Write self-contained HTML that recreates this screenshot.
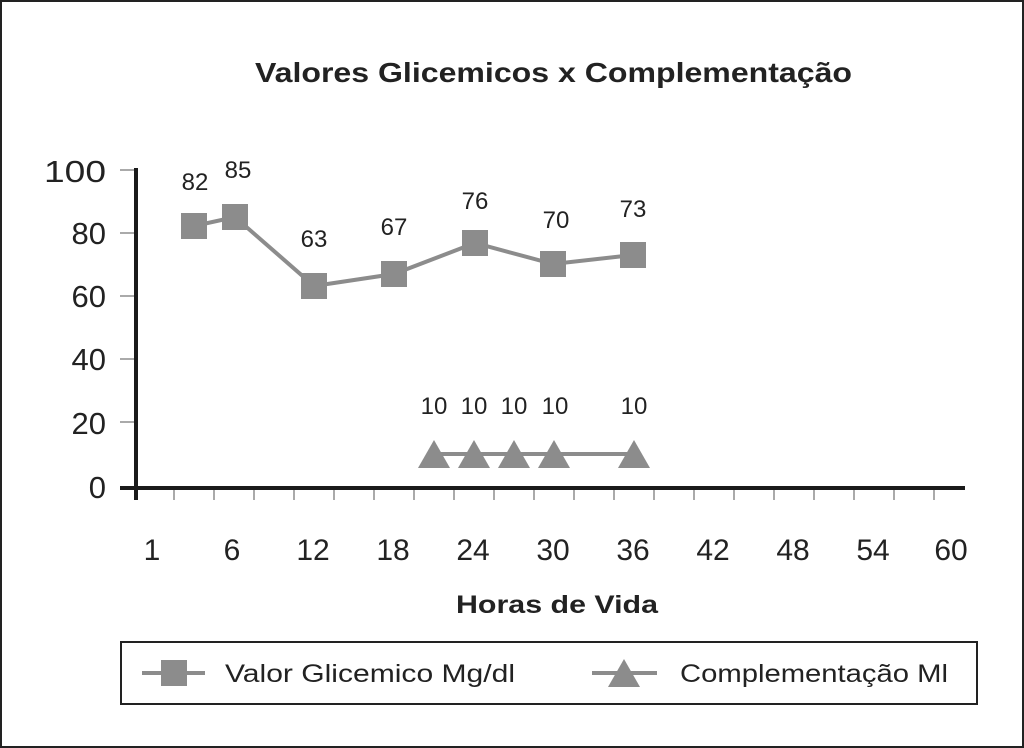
<!DOCTYPE html>
<html><head><style>
body{margin:0;background:#fff;}
svg{display:block;}
text{font-family:"Liberation Sans",sans-serif;}
</style></head><body>
<svg width="1024" height="748" viewBox="0 0 1024 748">
<rect x="1" y="1" width="1022" height="746" fill="#fff" stroke="#222" stroke-width="2"/>
<text x="255" y="82" font-size="28" font-weight="bold" fill="#222" textLength="597" lengthAdjust="spacingAndGlyphs">Valores Glicemicos x Complementação</text>
<g stroke="#aaa" stroke-width="2">
<line x1="120" y1="170" x2="136" y2="170"/><line x1="120" y1="233" x2="136" y2="233"/><line x1="120" y1="296" x2="136" y2="296"/><line x1="120" y1="359" x2="136" y2="359"/><line x1="120" y1="422" x2="136" y2="422"/>
<line x1="174" y1="488" x2="174" y2="500"/><line x1="214" y1="488" x2="214" y2="500"/><line x1="254" y1="488" x2="254" y2="500"/><line x1="294" y1="488" x2="294" y2="500"/><line x1="334" y1="488" x2="334" y2="500"/><line x1="374" y1="488" x2="374" y2="500"/><line x1="414" y1="488" x2="414" y2="500"/><line x1="454" y1="488" x2="454" y2="500"/><line x1="494" y1="488" x2="494" y2="500"/><line x1="534" y1="488" x2="534" y2="500"/><line x1="574" y1="488" x2="574" y2="500"/><line x1="614" y1="488" x2="614" y2="500"/><line x1="654" y1="488" x2="654" y2="500"/><line x1="694" y1="488" x2="694" y2="500"/><line x1="734" y1="488" x2="734" y2="500"/><line x1="774" y1="488" x2="774" y2="500"/><line x1="814" y1="488" x2="814" y2="500"/><line x1="854" y1="488" x2="854" y2="500"/><line x1="894" y1="488" x2="894" y2="500"/><line x1="934" y1="488" x2="934" y2="500"/>
</g>
<line x1="136" y1="168" x2="136" y2="500" stroke="#1a1a1a" stroke-width="4"/>
<line x1="120" y1="488" x2="965" y2="488" stroke="#1a1a1a" stroke-width="4"/>
<g font-size="31" fill="#222" text-anchor="end">
<text x="106" y="182" textLength="62" lengthAdjust="spacingAndGlyphs">100</text><text x="106" y="244">80</text><text x="106" y="307">60</text><text x="106" y="370">40</text><text x="106" y="434">20</text><text x="106" y="498">0</text>
</g>
<g font-size="30" fill="#222" text-anchor="middle">
<text x="152" y="560">1</text><text x="232" y="560">6</text><text x="313" y="560">12</text><text x="393" y="560">18</text><text x="473" y="560">24</text><text x="553" y="560">30</text><text x="633" y="560">36</text><text x="713" y="560">42</text><text x="793" y="560">48</text><text x="873" y="560">54</text><text x="951" y="560">60</text>
</g>
<text x="456" y="613" font-size="25" font-weight="bold" fill="#222" textLength="202" lengthAdjust="spacingAndGlyphs">Horas de Vida</text>
<polyline points="194,226 235,217 314,286 394,274 475,243 553,264 633,255" fill="none" stroke="#8c8c8c" stroke-width="4"/>
<g fill="#8c8c8c">
<rect x="181" y="213" width="26" height="26"/><rect x="222" y="204" width="26" height="26"/><rect x="301" y="273" width="26" height="26"/><rect x="381" y="261" width="26" height="26"/><rect x="462" y="230" width="26" height="26"/><rect x="540" y="251" width="26" height="26"/><rect x="620" y="242" width="26" height="26"/>
</g>
<g font-size="24" fill="#222" text-anchor="middle">
<text x="195" y="190">82</text><text x="238" y="178">85</text><text x="314" y="247">63</text><text x="394" y="235">67</text><text x="475" y="209">76</text><text x="556" y="228">70</text><text x="633" y="217">73</text>
<text x="434" y="414">10</text><text x="474" y="414">10</text><text x="514" y="414">10</text><text x="555" y="414">10</text><text x="634" y="414">10</text>
</g>
<line x1="434" y1="454" x2="634" y2="454" stroke="#8c8c8c" stroke-width="4"/>
<g fill="#8c8c8c">
<polygon points="434,440 418,468 450,468"/><polygon points="474,440 458,468 490,468"/><polygon points="514,440 498,468 530,468"/><polygon points="554,440 538,468 570,468"/><polygon points="634,440 618,468 650,468"/>
</g>
<rect x="121" y="642" width="856" height="62" fill="none" stroke="#222" stroke-width="2"/>
<line x1="142" y1="673" x2="205" y2="673" stroke="#8c8c8c" stroke-width="4"/>
<rect x="161" y="660" width="26" height="26" fill="#8c8c8c"/>
<text x="225" y="682" font-size="25" fill="#222" textLength="290" lengthAdjust="spacingAndGlyphs">Valor Glicemico Mg/dl</text>
<line x1="592" y1="673" x2="657" y2="673" stroke="#8c8c8c" stroke-width="4"/>
<polygon points="624,659 608,687 640,687" fill="#8c8c8c"/>
<text x="680" y="682" font-size="25" fill="#222" textLength="268" lengthAdjust="spacingAndGlyphs">Complementação Ml</text>
</svg>
</body></html>
